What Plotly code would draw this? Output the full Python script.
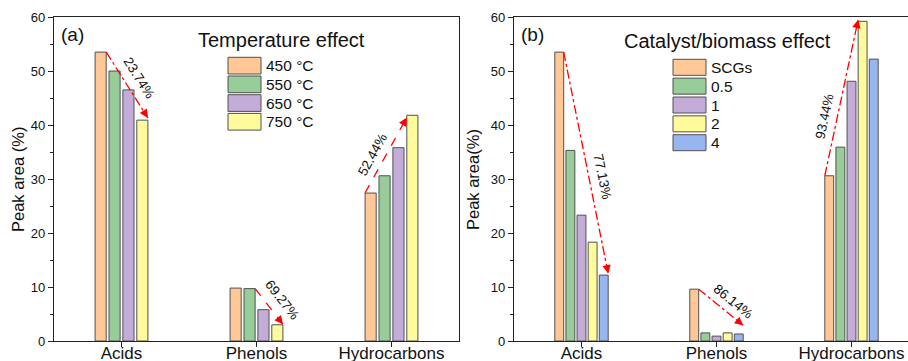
import math
import plotly.graph_objects as go

# ---------------- data ----------------
categories = ["Acids", "Phenols", "Hydrocarbons"]

temp_labels = ["450 °C", "550 °C", "650 °C", "750 °C"]
temp_450 = [53.5, 9.8, 27.4]
temp_550 = [50.0, 9.7, 30.6]
temp_650 = [46.5, 5.8, 35.8]
temp_750 = [40.9, 3.0, 41.8]

cat_labels = ["SCGs", "0.5", "1", "2", "4"]
cb_scgs = [53.5, 9.6, 30.6]
cb_05 = [35.3, 1.5, 35.9]
cb_1 = [23.3, 0.9, 48.1]
cb_2 = [18.3, 1.5, 59.2]
cb_4 = [12.2, 1.3, 52.2]

pct_a = ["23.74%", "69.27%", "52.44%"]
pct_b = ["77.13%", "86.14%", "93.44%"]

y_ticks = [0, 10, 20, 30, 40, 50, 60]

colors_a = ["#FFC896", "#96CD98", "#C3ADD8", "#FFFA9B"]
colors_b = ["#FFC896", "#96CD98", "#C3ADD8", "#FFFA9B", "#97B6EF"]

# ---------------- layout constants ----------------
W, H = 908, 361
FONT = "Liberation Sans, Arial, sans-serif"
BARGAP = 0.588
GROUPGAP = 0.2
RED = "#FF0000"

xa_dom = [54 / W, 459 / W]
xb_dom = [514 / W, 1.0]
y_dom = [(H - 341) / H, (H - 17) / H]
xa_range = [-0.5, 2.5]
xb_range = [-0.5, -0.5 + (W - 514) / 135.0]
y_range = [0, 60]

series_a = [temp_450, temp_550, temp_650, temp_750]
series_b = [cb_scgs, cb_05, cb_1, cb_2, cb_4]

fig = go.Figure()

for name, vals, col in zip(temp_labels, series_a, colors_a):
    fig.add_trace(go.Bar(x=[0, 1, 2], y=vals, name=name, xaxis="x", yaxis="y",
                         marker=dict(color=col, line=dict(color="#505050", width=1)),
                         showlegend=False))
for name, vals, col in zip(cat_labels, series_b, colors_b):
    fig.add_trace(go.Bar(x=[0, 1, 2], y=vals, name=name, xaxis="x2", yaxis="y2",
                         marker=dict(color=col, line=dict(color="#505050", width=1)),
                         showlegend=False))


def px_per_x(dom, rng):
    return (dom[1] - dom[0]) * W / (rng[1] - rng[0])


py_per_y = (y_dom[1] - y_dom[0]) * H / (y_range[1] - y_range[0])


def bar_x(n, cat, i, side):
    group = 1 - BARGAP
    slot = group / n
    bw = slot * (1 - GROUPGAP)
    c = cat - group / 2 + slot * (i + 0.5)
    return c + side * bw / 2


shapes = []
annotations = []


def add_arrow(series, n, cat, i0, s0, i1, s1, dy_end, style, label, perp, along, xr, yr, sx):
    x0 = bar_x(n, cat, i0, s0)
    y0 = series[i0][cat]
    x1 = bar_x(n, cat, i1, s1)
    y1 = series[i1][cat] + dy_end
    shapes.append(dict(type="line", xref=xr, yref=yr, x0=x0, y0=y0, x1=x1, y1=y1,
                       line=dict(color=RED, width=1.3, dash=style)))
    dxp = (x1 - x0) * sx
    dyp = -(y1 - y0) * py_per_y
    L = math.hypot(dxp, dyp)
    ux, uy = dxp / L, dyp / L
    frac = 7.0 / L
    annotations.append(dict(x=x1, y=y1, xref=xr, yref=yr, axref=xr, ayref=yr,
                            ax=x1 - (x1 - x0) * frac, ay=y1 - (y1 - y0) * frac,
                            text="", showarrow=True, arrowhead=2, arrowsize=1.3,
                            arrowwidth=1.3, arrowcolor=RED, standoff=0, startstandoff=0))
    ang = math.degrees(math.atan2(dyp, dxp))
    nx, ny = -uy, ux
    offx = -nx * perp + ux * along
    offy = -ny * perp + uy * along
    annotations.append(dict(x=(x0 + x1) / 2, y=(y0 + y1) / 2, xref=xr, yref=yr,
                            text=label, showarrow=False, textangle=ang,
                            xshift=offx, yshift=-offy,
                            font=dict(family=FONT, size=13.5, color="#111")))


sxa = px_per_x(xa_dom, xa_range)
sxb = px_per_x(xb_dom, xb_range)

add_arrow(series_a, 4, 0, 0, 1, 3, 1, 0.4, "dashdot", pct_a[0], 14, 1, "x", "y", sxa)
add_arrow(series_a, 4, 1, 1, 1, 3, 1, 0.1, "dash", pct_a[1], 14, 2.5, "x", "y", sxa)
add_arrow(series_a, 4, 2, 0, -1, 3, -1, -0.4, "dash", pct_a[2], 12.5, -5.5, "x", "y", sxa)
add_arrow(series_b, 5, 0, 0, 1, 4, 1, 0.3, "dashdot", pct_b[0], 13, 17, "x2", "y2", sxb)
add_arrow(series_b, 5, 1, 0, 1, 4, 1, 1.6, "dashdot", pct_b[1], 12, 6, "x2", "y2", sxb)
add_arrow(series_b, 5, 2, 0, -1, 3, -1, 0.3, "dashdot", pct_b[2], 12.5, -22, "x2", "y2", sxb)


def legend(labels, colors, x0px, x1px, ytop, step, hgt, textx):
    for k, (lab, col) in enumerate(zip(labels, colors)):
        yt = ytop + k * step
        shapes.append(dict(type="rect", xref="paper", yref="paper",
                           x0=x0px / W, x1=x1px / W, y0=1 - (yt + hgt) / H, y1=1 - yt / H,
                           fillcolor=col, line=dict(color="#505050", width=1)))
        annotations.append(dict(x=textx / W, y=1 - (yt + hgt / 2) / H, xref="paper", yref="paper",
                                text=lab, showarrow=False, xanchor="left", yanchor="middle",
                                font=dict(family=FONT, size=15.5, color="#111")))


legend(temp_labels, colors_a, 228, 261, 57.3, 18.7, 16.7, 264)
legend(cat_labels, colors_b, 673, 706, 59.3, 18.85, 16.0, 709)


def text_ann(txt, xpx, ypx, size, angle=0):
    annotations.append(dict(x=xpx / W, y=1 - ypx / H, xref="paper", yref="paper",
                            text=txt, showarrow=False, textangle=angle,
                            xanchor="center", yanchor="middle",
                            font=dict(family=FONT, size=size, color="#111")))


text_ann("Temperature effect", 281, 40, 20)
text_ann("Catalyst/biomass effect", 727, 41, 20)
text_ann("(a)", 72, 35, 19)
text_ann("(b)", 532, 35, 19)
text_ann("Peak area (%)", 18, 180, 16.5, -90)
text_ann("Peak area(%)", 473, 180, 16.5, -90)

axis_common = dict(showline=True, linecolor="#222", linewidth=1.3, showgrid=False,
                   zeroline=False, automargin=False,
                   tickfont=dict(family=FONT, size=17, color="#111"))

yaxis_common = dict(showline=True, linecolor="#222", linewidth=1.3, showgrid=False,
                    zeroline=False, automargin=False, range=y_range, tickvals=y_ticks,
                    ticks="outside", ticklen=5, tickwidth=1.2, tickcolor="#222",
                    tickfont=dict(family=FONT, size=13, color="#111"),
                    minor=dict(dtick=5, ticks="outside", ticklen=3, tickwidth=1, tickcolor="#222"),
                    domain=y_dom, fixedrange=True)

xtick_common = dict(tickvals=[0, 1, 2], ticktext=categories, ticks="outside", ticklen=5,
                    tickcolor="#222", ticklabelstandoff=-9, mirror=True)

fig.update_layout(
    width=W, height=H,
    margin=dict(l=0, r=0, t=0, b=0, autoexpand=False),
    paper_bgcolor="white", plot_bgcolor="white",
    barmode="group", bargap=BARGAP, bargroupgap=GROUPGAP,
    showlegend=False,
    xaxis=dict(**axis_common, **xtick_common, domain=xa_dom, range=xa_range, anchor="y"),
    yaxis=dict(**yaxis_common, mirror=True, anchor="x"),
    xaxis2=dict(**axis_common, **xtick_common, domain=xb_dom, range=xb_range, anchor="y2"),
    yaxis2=dict(**yaxis_common, mirror=False, anchor="x2"),
    shapes=shapes,
    annotations=annotations,
    font=dict(family=FONT, color="#111"),
)

fig.write_html("out.html")
